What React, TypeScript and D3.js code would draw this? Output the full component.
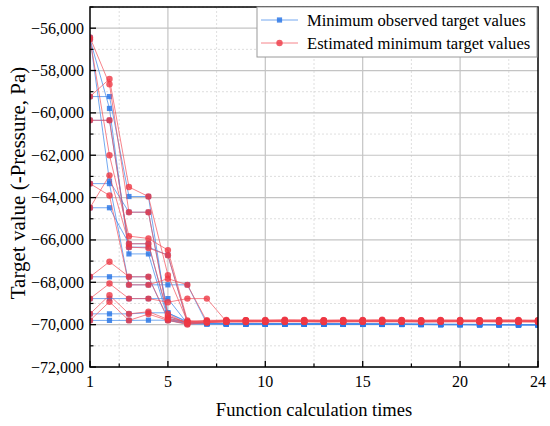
import React from "react";
import * as d3 from "d3";

// x = function calculation count (1..24)
const calcTimes = [1, 2, 3, 4, 5, 6, 7, 8, 9, 10, 11, 12, 13, 14, 15, 16, 17, 18, 19, 20, 21, 22, 23, 24];

const xTicks = [1, 5, 10, 15, 20, 24];
const xMinorTicks = [2.5, 7.5, 12.5, 17.5, 22.5];
const yTicks = [-72000, -70000, -68000, -66000, -64000, -62000, -60000, -58000, -56000];
const yMinorTicks = [-71000, -69000, -67000, -65000, -63000, -61000, -59000, -57000, -55000];

// minimum observed target values, one array per run
const observedRuns: number[][] = [
  [-56440, -63220, -64690, -64690, -69450, -69850, -69920, -69950, -69950, -69960, -69960, -69960, -69970, -69970, -69970, -69970, -69980, -69990, -69990, -69990, -70000, -70000, -70000, -70000],
  [-56520, -59790, -66660, -66660, -69700, -69900, -69930, -69940, -69950, -69950, -69960, -69960, -69960, -69970, -69970, -69980, -69980, -69980, -69990, -69990, -69990, -70000, -70000, -70000],
  [-59230, -59230, -63950, -63950, -69800, -69950, -69960, -69960, -69970, -69970, -69970, -69980, -69980, -69980, -69990, -69990, -69990, -69990, -70000, -70000, -70000, -70000, -70010, -70010],
  [-60350, -60350, -66340, -66340, -66720, -69900, -69940, -69950, -69950, -69960, -69960, -69970, -69970, -69970, -69980, -69980, -69980, -69990, -69990, -69990, -70000, -70000, -70000, -70000],
  [-63340, -63340, -68120, -68120, -68120, -68120, -69950, -69960, -69960, -69970, -69970, -69970, -69980, -69980, -69980, -69980, -69990, -69990, -69990, -70000, -70000, -70000, -70000, -70000],
  [-64480, -64480, -66180, -66180, -69600, -69920, -69950, -69960, -69960, -69960, -69970, -69970, -69970, -69980, -69980, -69980, -69990, -69990, -69990, -69990, -70000, -70000, -70000, -70000],
  [-67740, -67740, -67740, -67740, -69750, -69900, -69940, -69950, -69960, -69960, -69960, -69970, -69970, -69970, -69980, -69980, -69980, -69990, -69990, -69990, -69990, -70000, -70000, -70000],
  [-68770, -68770, -68770, -68770, -68770, -69950, -69960, -69960, -69970, -69970, -69970, -69980, -69980, -69980, -69980, -69990, -69990, -69990, -70000, -70000, -70000, -70000, -70000, -70000],
  [-69490, -69490, -69490, -69440, -69440, -69900, -69940, -69950, -69950, -69960, -69960, -69960, -69970, -69970, -69970, -69980, -69980, -69980, -69990, -69990, -69990, -69990, -70000, -70000],
  [-69800, -69800, -69800, -69790, -69790, -69960, -69970, -69970, -69970, -69980, -69980, -69980, -69980, -69990, -69990, -69990, -69990, -70000, -70000, -70000, -70000, -70000, -70000, -70010],
];

// estimated minimum target values, one array per run
const estimatedRuns: number[][] = [
  [-56440, -58650, -64690, -64690, -69600, -69900, -69860, -69830, -69820, -69840, -69830, -69820, -69830, -69840, -69830, -69820, -69830, -69840, -69830, -69820, -69830, -69830, -69840, -69830],
  [-56520, -62000, -65820, -65930, -66480, -69800, -69850, -69820, -69800, -69810, -69800, -69790, -69800, -69810, -69800, -69800, -69790, -69800, -69810, -69800, -69790, -69800, -69800, -69810],
  [-59230, -58400, -63500, -63950, -67660, -69850, -69880, -69860, -69850, -69860, -69850, -69850, -69860, -69850, -69850, -69860, -69850, -69850, -69840, -69850, -69850, -69860, -69850, -69850],
  [-60350, -60350, -66340, -66380, -66720, -69880, -69820, -69780, -69790, -69780, -69770, -69780, -69790, -69780, -69780, -69770, -69780, -69790, -69780, -69780, -69790, -69780, -69780, -69790],
  [-63340, -63900, -68120, -68120, -67830, -68120, -69850, -69820, -69830, -69820, -69830, -69840, -69830, -69830, -69820, -69830, -69830, -69840, -69830, -69830, -69820, -69830, -69840, -69830],
  [-64480, -62950, -66180, -66180, -69500, -69950, -69900, -69870, -69880, -69870, -69860, -69870, -69880, -69870, -69870, -69860, -69870, -69880, -69870, -69870, -69860, -69870, -69870, -69880],
  [-67740, -67030, -67740, -67740, -69700, -69880, -69790, -69800, -69790, -69800, -69790, -69800, -69800, -69790, -69800, -69790, -69800, -69800, -69790, -69800, -69800, -69790, -69800, -69800],
  [-68770, -68060, -68770, -68770, -68940, -68770, -68770, -69850, -69840, -69850, -69840, -69850, -69850, -69840, -69850, -69840, -69850, -69850, -69840, -69850, -69850, -69840, -69850, -69850],
  [-69490, -68610, -69490, -69390, -69750, -69930, -69870, -69820, -69810, -69820, -69810, -69820, -69820, -69810, -69820, -69810, -69820, -69820, -69810, -69820, -69820, -69810, -69820, -69820],
  [-69800, -68920, -69800, -69500, -69800, -69990, -69900, -69860, -69860, -69850, -69860, -69850, -69860, -69860, -69850, -69860, -69850, -69860, -69860, -69850, -69860, -69850, -69860, -69860],
];

const legendLabels = ["Minimum observed target values", "Estimated minimum target values"];

const W = 550;
const H = 426;
const plot = { left: 90, right: 538, top: 7, bottom: 367 };
const font = '"Liberation Serif", "Times New Roman", serif';

const BLUE_LINE = "rgba(70,140,235,0.75)";
const BLUE_MARK = "rgba(45,120,230,0.85)";
const RED_LINE = "rgba(242,80,90,0.7)";
const RED_MARK = "rgba(238,55,68,0.8)";

const fmt = (v: number) => d3.format(",")(v).replace("-", "\u2212");

export default function App() {
  const x = d3.scaleLinear().domain([1, 24]).range([plot.left, plot.right]);
  const y = d3.scaleLinear().domain([-72000, -55000]).range([plot.bottom, plot.top]);

  const line = d3
    .line<number>()
    .x((_, i) => x(calcTimes[i]))
    .y((d) => y(d));

  const txt = { fontFamily: font };

  return (
    <svg width={W} height={H} style={{ position: "absolute", left: 0, top: 0, background: "#fff", fontFamily: font }}>
      <defs>
        <clipPath id="plotClip">
          <rect x={plot.left} y={plot.top} width={plot.right - plot.left} height={plot.bottom - plot.top} />
        </clipPath>
      </defs>

      {/* grid */}
      {yMinorTicks.map((t) => (
        <line key={"ym" + t} x1={plot.left} x2={plot.right} y1={y(t)} y2={y(t)} stroke="#d6d6d6" strokeWidth={0.8} strokeDasharray="2,2" />
      ))}
      {xMinorTicks.map((t) => (
        <line key={"xm" + t} x1={x(t)} x2={x(t)} y1={plot.top} y2={plot.bottom} stroke="#d6d6d6" strokeWidth={0.8} strokeDasharray="2,2" />
      ))}
      {yTicks.map((t) => (
        <line key={"yg" + t} x1={plot.left} x2={plot.right} y1={y(t)} y2={y(t)} stroke="#c4c4c4" strokeWidth={1.2} />
      ))}
      {xTicks.slice(1, -1).map((t) => (
        <line key={"xg" + t} x1={x(t)} x2={x(t)} y1={plot.top} y2={plot.bottom} stroke="#c4c4c4" strokeWidth={1.2} />
      ))}

      {/* series */}
      <g clipPath="url(#plotClip)">
        {observedRuns.map((run, r) => (
          <g key={"o" + r}>
            <path d={line(run) || ""} fill="none" stroke={BLUE_LINE} strokeWidth={1} />
            {run.map((v, i) => (
              <rect key={i} x={x(calcTimes[i]) - 2.6} y={y(v) - 2.6} width={5.2} height={5.2} fill={BLUE_MARK} />
            ))}
          </g>
        ))}
        {estimatedRuns.map((run, r) => (
          <g key={"e" + r}>
            <path d={line(run) || ""} fill="none" stroke={RED_LINE} strokeWidth={1} />
            {run.map((v, i) => (
              <circle key={i} cx={x(calcTimes[i])} cy={y(v)} r={3.2} fill={RED_MARK} />
            ))}
          </g>
        ))}
      </g>

      {/* frame */}
      <rect x={plot.left} y={plot.top} width={plot.right - plot.left} height={plot.bottom - plot.top} fill="none" stroke="#000" strokeWidth={1.5} />

      {/* y axis ticks */}
      {yTicks.map((t) => (
        <g key={"yt" + t}>
          <line x1={plot.left} x2={plot.left + 6} y1={y(t)} y2={y(t)} stroke="#000" strokeWidth={1.3} />
          <text x={plot.left - 6} y={y(t) + 5.5} textAnchor="end" fontSize={16} fill="#000" style={txt}>
            {fmt(t)}
          </text>
        </g>
      ))}
      {yMinorTicks.map((t) => (
        <line key={"ymt" + t} x1={plot.left} x2={plot.left + 3.5} y1={y(t)} y2={y(t)} stroke="#000" strokeWidth={1.2} />
      ))}

      {/* x axis ticks */}
      {xTicks.map((t) => (
        <g key={"xt" + t}>
          <line x1={x(t)} x2={x(t)} y1={plot.bottom} y2={plot.bottom - 6} stroke="#000" strokeWidth={1.3} />
          <text x={x(t)} y={plot.bottom + 20} textAnchor="middle" fontSize={16} fill="#000" style={txt}>
            {t}
          </text>
        </g>
      ))}
      {xMinorTicks.map((t) => (
        <line key={"xmt" + t} x1={x(t)} x2={x(t)} y1={plot.bottom} y2={plot.bottom - 3.5} stroke="#000" strokeWidth={1.2} />
      ))}

      {/* axis titles */}
      <text x={(plot.left + plot.right) / 2} y={416} textAnchor="middle" fontSize={18.5} fill="#000" style={txt}>
        Function calculation times
      </text>
      <text transform="translate(25, 183) rotate(-90)" textAnchor="middle" fontSize={21} fill="#000" style={txt}>
        Target value (-Pressure, Pa)
      </text>

      {/* legend */}
      <g>
        <rect x={257} y={plot.top} width={280} height={50} fill="#fff" stroke="#9a9a9a" strokeWidth={1} />
        <line x1={261} x2={298} y1={20} y2={20} stroke={BLUE_LINE} strokeWidth={1} />
        <rect x={279.5 - 2.6} y={17.4} width={5.2} height={5.2} fill={BLUE_MARK} />
        <text x={307} y={26} fontSize={16.6} fill="#000" style={txt}>
          {legendLabels[0]}
        </text>
        <line x1={261} x2={298} y1={43} y2={43} stroke={RED_LINE} strokeWidth={1} />
        <circle cx={279.5} cy={43} r={3.2} fill={RED_MARK} />
        <text x={307} y={49} fontSize={16.6} fill="#000" style={txt}>
          {legendLabels[1]}
        </text>
      </g>
    </svg>
  );
}
